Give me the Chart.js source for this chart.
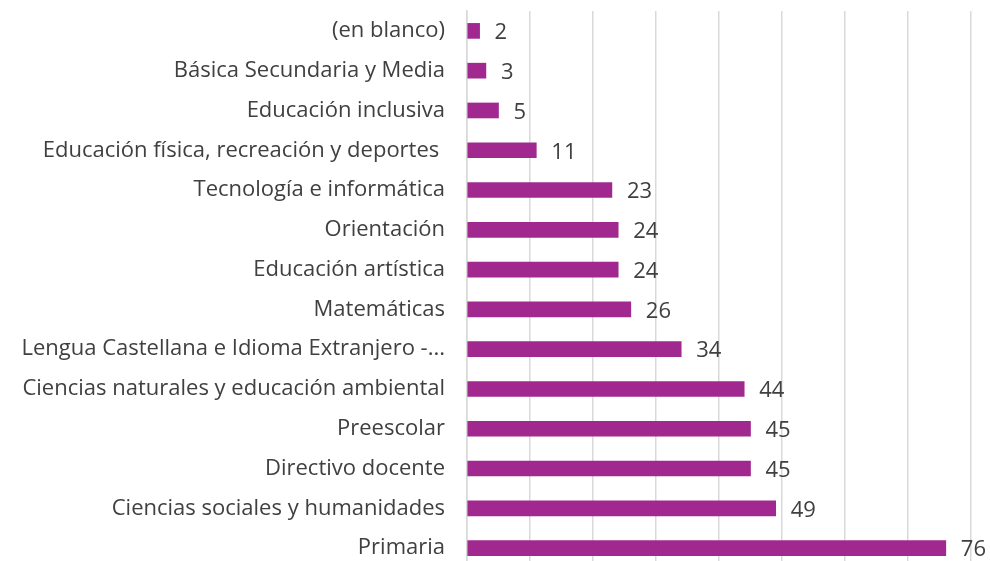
<!DOCTYPE html>
<html>
<head>
<meta charset="utf-8">
<script src="https://cdn.jsdelivr.net/npm/chart.js@4/dist/chart.umd.min.js"></script>
<style>
  html, body { margin: 0; padding: 0; background: #fff; overflow: hidden; }
  #wrap { width: 990px; height: 568px; }
</style>
</head>
<body>
<div id="wrap"><canvas id="chart" width="990" height="568"></canvas></div>
<script>
var categories = [
  "(en blanco)",
  "Básica Secundaria y Media",
  "Educación inclusiva",
  "Educación física, recreación y deportes ",
  "Tecnología e informática",
  "Orientación",
  "Educación artística",
  "Matemáticas",
  "Lengua Castellana e Idioma Extranjero -...",
  "Ciencias naturales y educación ambiental",
  "Preescolar",
  "Directivo docente",
  "Ciencias sociales y humanidades",
  "Primaria"
];
var values = [2, 3, 5, 11, 23, 24, 24, 26, 34, 44, 45, 45, 49, 76];
var axisMax = 80;
var axisStep = 10;

// draws the number at the end of each bar
var barLabels = {
  id: 'barLabels',
  afterDatasetsDraw: function(chart) {
    var ctx = chart.ctx;
    var meta = chart.getDatasetMeta(0);
    ctx.save();
    ctx.font = '22px "Open Sans", sans-serif';
    ctx.fillStyle = '#404040';
    ctx.textAlign = 'left';
    ctx.textBaseline = 'middle';
    meta.data.forEach(function(bar, i) {
      ctx.fillText(values[i], bar.x + 15, bar.y + 2);
    });
    ctx.restore();
  }
};

var ctx = document.getElementById("chart").getContext('2d');
var chart = new Chart(ctx, {
  type: 'bar',
  data: {
    labels: categories,
    datasets: [{
      data: values,
      backgroundColor: "#A0288F",
      barThickness: 15
    }]
  },
  options: {
    indexAxis: 'y',
    responsive: false,
    animation: false,
    layout: { padding: { top: 11, right: 19, left: 0, bottom: 0 } },
    plugins: {
      legend: { display: false },
      tooltip: { enabled: false }
    },
    scales: {
      x: {
        min: 0,
        max: axisMax,
        ticks: { stepSize: axisStep, display: false },
        grid: { color: '#D9D9D9', lineWidth: 1.5, drawTicks: false },
        border: { display: false },
        afterFit: function(scale) {
          scale.height = 0;
          scale.paddingLeft = 0;
          scale.paddingRight = 0;
        }
      },
      y: {
        ticks: {
          color: '#404040',
          font: { family: '"Open Sans", sans-serif', size: 22 },
          padding: 22,
          autoSkip: false
        },
        grid: { display: false, drawTicks: false },
        border: { display: true, color: '#D9D9D9', width: 1.5 },
        afterFit: function(scale) {
          scale.width = 467;
          scale.paddingTop = 0;
          scale.paddingBottom = 0;
        }
      }
    }
  },
  plugins: [barLabels]
});
</script>
</body>
</html>
